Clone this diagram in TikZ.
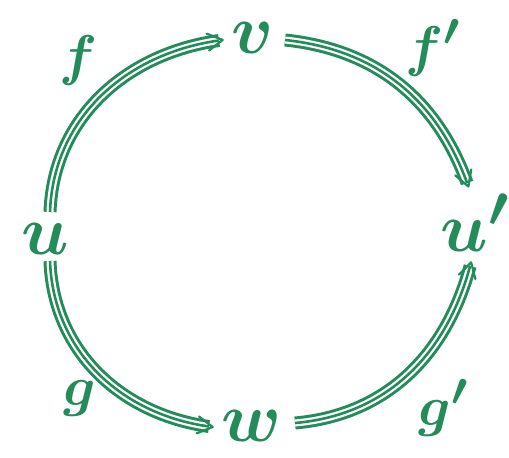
\documentclass[tikz,border=0pt]{standalone}
\usepackage{bm}
\usetikzlibrary{decorations.markings}
\definecolor{gc}{RGB}{35,140,90}
\tikzset{
  obj/.style={inner sep=0pt, text=gc, font=\Huge, scale=2.81},
  lab/.style={inner sep=0pt, text=gc, font=\Huge, scale=2.25},
  tri/.style={draw=gc, line width=13pt,
    postaction={draw=white, line width=7pt},
    postaction={draw=gc, line width=2.6pt},
    postaction={decorate, decoration={markings, mark=at position 0.999 with {
      \draw[gc, line width=2.2pt, line cap=round, line join=round] (-11pt,8.5pt) -- (4pt,0pt) -- (-11pt,-8.5pt);}}}}
}
\begin{document}
\begin{tikzpicture}[x=1pt,y=1pt]
\useasboundingbox (0,0) rectangle (509,458);
\node[obj, anchor=base] (u) at (45,203) {$\bm{u}$};
\node[obj, anchor=base] (v) at (253,404) {$\bm{v}$};
\node[obj, anchor=base west] (up) at (440,206) {$\bm{u'}$};
\node[obj, anchor=base] (w) at (252,16) {$\bm{w}$};
\node[lab, anchor=base] (f) at (78,383) {$\bm{f}$};
\node[lab, anchor=base west] (fp) at (405,392) {$\bm{f'}$};
\node[lab, anchor=base] (g) at (80,52) {$\bm{g}$};
\node[lab, anchor=base west] (gp) at (418,32) {$\bm{g'}$};
\path[tri] ([shift={(5pt,43pt)}]u.base) to[out=88, in=188] ([shift={(-34pt,13.5pt)}]v.base);
\path[tri] ([shift={(32pt,14pt)}]v.base) to[out=-6, in=110] ([shift={(-8pt,69pt)}]up.base);
\path[tri] ([shift={(5pt,-6pt)}]u.base) to[out=-88, in=172] ([shift={(-43pt,15.5pt)}]w.base);
\path[tri] ([shift={(43pt,19pt)}]w.base) to[out=5, in=-105] ([shift={(-5pt,-14pt)}]up.base);
\end{tikzpicture}
\end{document}
